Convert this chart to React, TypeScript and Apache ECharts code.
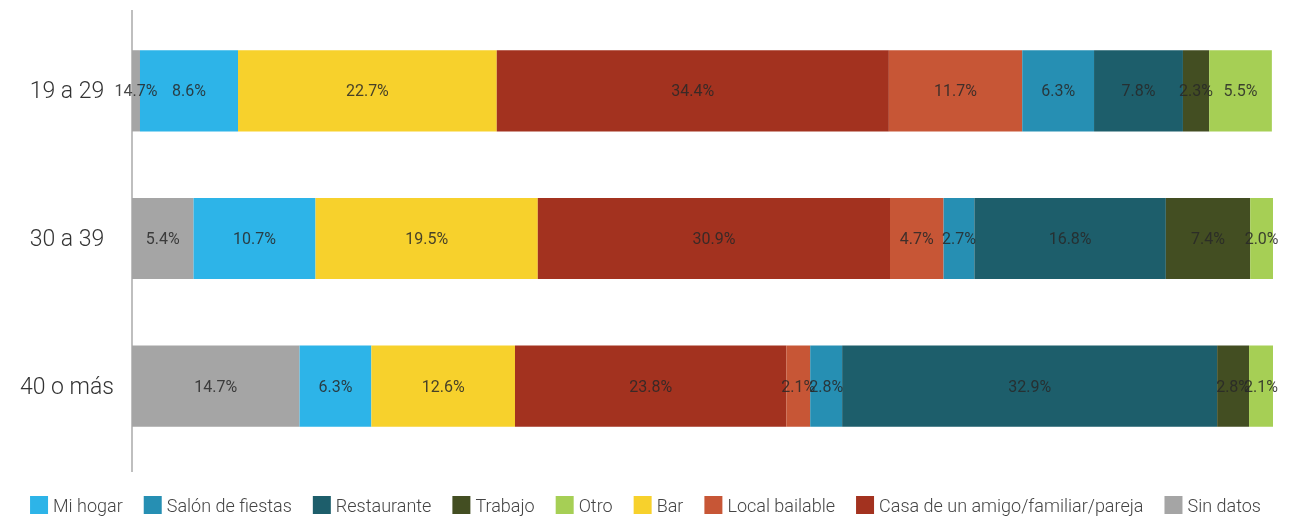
import React, { useEffect, useRef } from "react";
import * as echarts from "echarts";

const categories = ["19 a 29", "30 a 39", "40 o más"];
const seriesNames = [
  "Sin datos",
  "Mi hogar",
  "Bar",
  "Casa de un amigo/familiar/pareja",
  "Local bailable",
  "Salón de fiestas",
  "Restaurante",
  "Trabajo",
  "Otro",
];
const sinDatos = [0.7, 5.4, 14.7];
const sinDatosLabels = ["14.7%", "5.4%", "14.7%"];
const miHogar = [8.6, 10.7, 6.3];
const bar = [22.7, 19.5, 12.6];
const casa = [34.4, 30.9, 23.8];
const localBailable = [11.7, 4.7, 2.1];
const salon = [6.3, 2.7, 2.8];
const restaurante = [7.8, 16.8, 32.9];
const trabajo = [2.3, 7.4, 2.8];
const otro = [5.5, 2.0, 2.1];
const legendOrder = [
  "Mi hogar",
  "Salón de fiestas",
  "Restaurante",
  "Trabajo",
  "Otro",
  "Bar",
  "Local bailable",
  "Casa de un amigo/familiar/pareja",
  "Sin datos",
];

const colors: Record<string, string> = {
  "Sin datos": "#a5a5a5",
  "Mi hogar": "#2db4e8",
  Bar: "#f7d12c",
  "Casa de un amigo/familiar/pareja": "#a3321f",
  "Local bailable": "#c75636",
  "Salón de fiestas": "#268fb3",
  Restaurante: "#1d5e6b",
  Trabajo: "#434e22",
  Otro: "#a6cf55",
};

const allData = [sinDatos, miHogar, bar, casa, localBailable, salon, restaurante, trabajo, otro];

export default function App() {
  const ref = useRef<HTMLDivElement>(null);
  useEffect(() => {
    const chart = echarts.init(ref.current!, undefined, { renderer: "svg" });
    chart.setOption({
      animation: false,
      grid: { left: 132, right: 18, top: 17, height: 443, containLabel: false },
      legend: {
        data: legendOrder,
        top: 496,
        left: "center",
        padding: 0,
        itemWidth: 18,
        itemHeight: 18,
        itemGap: 21,
        icon: "rect",
        textStyle: { fontFamily: "Roboto", fontSize: 18, color: "#444", fontWeight: 300 },
      },
      xAxis: { type: "value", min: 0, max: 100.1, show: false },
      yAxis: {
        type: "category",
        data: categories,
        inverse: true,
        axisLine: { show: false },
        axisTick: { show: false },
        axisLabel: {
          fontFamily: "Roboto",
          fontSize: 23,
          color: "#333",
          margin: 65,
          align: "center",
          fontWeight: 300,
        },
      },
      graphic: [
        {
          type: "line",
          shape: { x1: 132, y1: 10, x2: 132, y2: 472 },
          style: { stroke: "#bfbfbf", lineWidth: 2 },
        },
      ],
      series: seriesNames.map((name, i) => ({
        name,
        type: "bar",
        stack: "total",
        barCategoryGap: "45%",
        data: allData[i],
        itemStyle: { color: colors[name] },
        label: {
          show: true,
          position: "inside",
          fontFamily: "Roboto",
          fontSize: 16,
          color: "rgba(40,40,40,0.85)",
          formatter: (p: any) =>
            name === "Sin datos" ? sinDatosLabels[p.dataIndex] : p.value.toFixed(1) + "%",
        },
      })),
    });
    return () => chart.dispose();
  }, []);
  return (
    <div
      ref={ref}
      style={{ position: "fixed", left: 0, top: 0, width: 1291, height: 522 }}
    />
  );
}
